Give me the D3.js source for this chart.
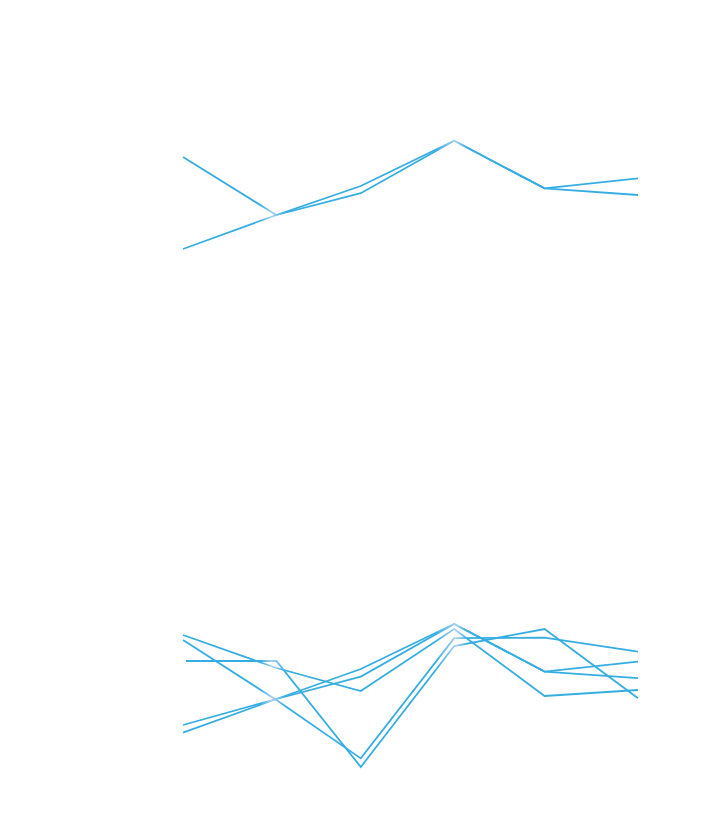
<!DOCTYPE html>
<html>
<head>
<meta charset="utf-8">
<script src="https://cdn.jsdelivr.net/npm/d3@7"></script>
<style>
  html, body { margin: 0; padding: 0; background: #ffffff; }
  svg { display: block; }
</style>
</head>
<body>
<script>
// ---- data ----
const dates = ["2021-01-01", "2021-02-01", "2021-03-01", "2021-04-01", "2021-05-01", "2021-06-01"];
const datesLate = ["2021-01-02", "2021-02-01", "2021-03-01", "2021-04-01", "2021-05-01", "2021-06-01"];

const topA = [71.5, 42.5, 57.0, 79.6, 55.8, 60.8];
const topB = [25.5, 42.5, 53.4, 79.6, 55.8, 52.5];

const botL1 = [82.5, 66.0, 54.5, 85.5, 52.0, 55.0];
const botL2 = [80.0, 50.0, 20.8, 80.9, 81.2, 74.2];
const botL3 = [69.5, 69.5, 16.5, 77.0, 85.5, 50.9];
const botL4 = [37.5, 50.5, 65.5, 88.0, 64.2, 69.2];
const botL5 = [33.7, 50.5, 61.7, 88.0, 64.2, 60.9];

const W = 702, H = 824;
const parse = d3.timeParse("%Y-%m-%d");

const svg = d3.select("body").append("svg").attr("width", W).attr("height", H);

const x = d3.scaleTime()
  .domain([parse(dates[0]), parse(dates[dates.length - 1])])
  .range([183, 638]);

const yTop = d3.scaleLinear().domain([0, 100]).range([300, 100]);
const yBot = d3.scaleLinear().domain([0, 100]).range([800, 600]);

// stroke gradient (lighter bands near Feb and Apr)
const main = "#36ade2", light = "#a9d1ef";
const defs = svg.append("defs");
const grad = defs.append("linearGradient")
  .attr("id", "lineGrad")
  .attr("gradientUnits", "userSpaceOnUse")
  .attr("x1", x.range()[0]).attr("x2", x.range()[1])
  .attr("y1", 0).attr("y2", 0);
[[0, main], [0.17, main], [0.195, light], [0.225, main],
 [0.555, main], [0.6, light], [0.625, main], [1, main]].forEach(([o, c]) => {
  grad.append("stop").attr("offset", o).attr("stop-color", c);
});

function series(ds, vals) {
  return ds.map((d, i) => ({ date: parse(d), value: vals[i] }));
}

const topSeries = [series(dates, topA), series(dates, topB)];
const botSeries = [
  series(dates, botL1), series(dates, botL2), series(datesLate, botL3),
  series(dates, botL4), series(dates, botL5)
];

function draw(data, y) {
  const line = d3.line().x(d => x(d.date)).y(d => y(d.value));
  svg.append("g").selectAll("path")
    .data(data)
    .join("path")
    .attr("d", line)
    .attr("fill", "none")
    .attr("stroke", "url(#lineGrad)")
    .attr("stroke-width", 1.8)
    .attr("stroke-linejoin", "miter");
}

draw(topSeries, yTop);
draw(botSeries, yBot);
</script>
</body>
</html>
